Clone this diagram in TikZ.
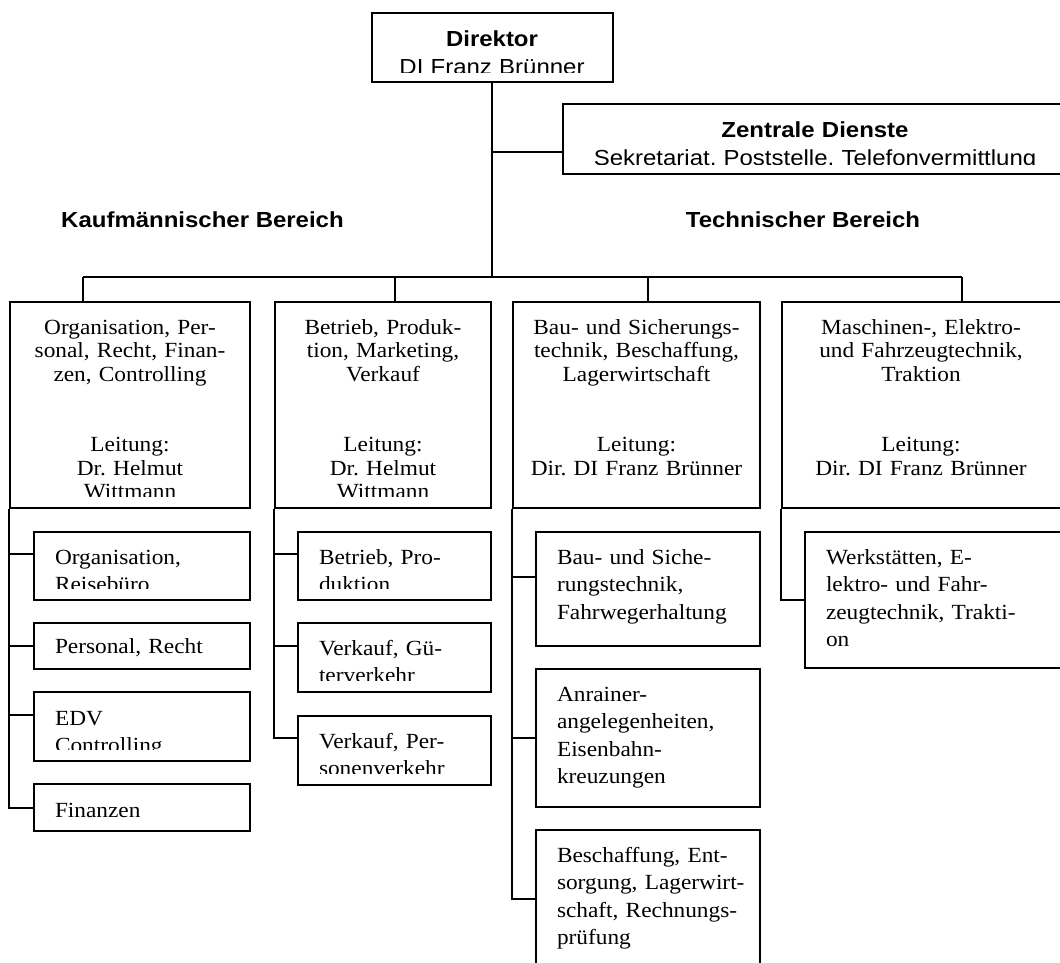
\documentclass[tikz,border=0pt]{standalone}
\usepackage{fontspec}
\setmainfont{Liberation Serif}[FakeStretch=1.08]
\setsansfont{Liberation Sans}[FakeStretch=1.1]
\frenchspacing

\newcommand\serifsize{\fontsize{21.6}{23.5}\selectfont}
\newcommand\subsize{\fontsize{21.6}{27.5}\selectfont}
\newcommand\sanssize{\fontsize{21.8}{28}\selectfont}

\begin{document}
\begin{tikzpicture}[
  x=1pt, y=-1pt,
  line width=2pt,
  every node/.style={inner sep=0pt},
  org box/.style={draw, line width=2pt},
  head/.style={anchor=base, font=\sanssize\sffamily\bfseries},
  sans text/.style 2 args={path picture={
      \clip ([yshift=9.5pt]path picture bounding box.south west)
        rectangle (path picture bounding box.north east);
      \node[anchor=base, text width=600pt, align=center, font=\sanssize\sffamily]
        at ([yshift=-#1]path picture bounding box.north) {#2};}},
  mid text/.style 2 args={path picture={
      \clip ([yshift=11.5pt]path picture bounding box.south west)
        rectangle (path picture bounding box.north east);
      \node[anchor=base, text width=400pt, align=center, font=\serifsize]
        at ([yshift=-#1]path picture bounding box.north) {#2};}},
  left text/.style 2 args={path picture={
      \clip ([yshift=11.5pt]path picture bounding box.south west)
        rectangle (path picture bounding box.north east);
      \node[anchor=base west, text width=400pt, align=left, font=\subsize]
        at ([xshift=20pt,yshift=-#1]path picture bounding box.north west) {#2};}},
]
\useasboundingbox (0,0) rectangle (1060,962);
\clip (0,0) rectangle (1060,962);

% head and staff unit
\node[org box, minimum width=241, minimum height=69,
  sans text={33}{\textbf{Direktor}\\DI Franz Brünner}] (dir) at (492,47.5) {};
\node[org box, minimum width=504, minimum height=70,
  sans text={33}{\textbf{Zentrale Dienste}\\Sekretariat, Poststelle, Telefonvermittlung}] (zd) at (815,139) {};

\node[head] (kb) at (202.5,227) {Kaufmännischer Bereich};
\node[head] (tb) at (803,227) {Technischer Bereich};

% departments
\node[org box, minimum width=240, minimum height=206,
  mid text={32}{Organisation, Per-\\sonal, Recht, Finan-\\zen, Controlling\\[47pt]Leitung:\\Dr. Helmut\\Wittmann}] (b1) at (130,405) {};
\node[org box, minimum width=216, minimum height=206,
  mid text={32}{Betrieb, Produk-\\tion, Marketing,\\Verkauf\\[47pt]Leitung:\\Dr. Helmut\\Wittmann}] (b2) at (383,405) {};
\node[org box, minimum width=247, minimum height=206,
  mid text={32}{Bau- und Sicherungs-\\technik, Beschaffung,\\Lagerwirtschaft\\[47pt]Leitung:\\Dir. DI Franz Brünner}] (b3) at (636.5,405) {};
\node[org box, minimum width=279, minimum height=206,
  mid text={32}{Maschinen-, Elektro-\\und Fahrzeugtechnik,\\Traktion\\[47pt]Leitung:\\Dir. DI Franz Brünner}] (b4) at (921,405) {};

% sections
\node[org box, minimum width=216, minimum height=68,
  left text={32}{Organisation,\\Reisebüro}] (s11) at (142,566) {};
\node[org box, minimum width=216, minimum height=46,
  left text={30}{Personal, Recht}] (s12) at (142,646) {};
\node[org box, minimum width=216, minimum height=69,
  left text={33}{EDV\\Controlling}] (s13) at (142,726.5) {};
\node[org box, minimum width=216, minimum height=47,
  left text={33}{Finanzen}] (s14) at (142,807.5) {};

\node[org box, minimum width=193, minimum height=68,
  left text={32}{Betrieb, Pro-\\duktion}] (s21) at (394.5,566) {};
\node[org box, minimum width=193, minimum height=69,
  left text={32}{Verkauf, Gü-\\terverkehr}] (s22) at (394.5,657.5) {};
\node[org box, minimum width=193, minimum height=69,
  left text={32}{Verkauf, Per-\\sonenverkehr}] (s23) at (394.5,750.5) {};

\node[org box, minimum width=224, minimum height=114,
  left text={32}{Bau- und Siche-\\rungstechnik,\\Fahrwegerhaltung}] (s31) at (648,589) {};
\node[org box, minimum width=224, minimum height=138,
  left text={32}{Anrainer-\\angelegenheiten,\\Eisenbahn-\\kreuzungen}] (s32) at (648,738) {};
\node[org box, minimum width=224, minimum height=138,
  left text={32}{Beschaffung, Ent-\\sorgung, Lagerwirt-\\schaft, Rechnungs-\\prüfung}] (s33) at (648,899) {};

\node[org box, minimum width=260, minimum height=136,
  left text={32}{Werkstätten, E-\\lektro- und Fahr-\\zeugtechnik, Trakti-\\on}] (s41) at (935,600) {};

% tree lines
\coordinate (bus) at (492,277);
\coordinate (d1) at (83,277);
\coordinate (d2) at (395,277);
\coordinate (d3) at (648,277);
\coordinate (d4) at (962,277);
\coordinate (zj) at (492,152);
\draw (dir.south) -- (bus);
\draw (zj) -- (zj -| zd.west);
\draw (d1) -- (d4);
\draw (d1) -- (d1 |- b1.north);
\draw (d2) -- (d2 |- b2.north);
\draw (d3) -- (d3 |- b3.north);
\draw (d4) -- (d4 |- b4.north);

\coordinate (t11) at ([yshift=12pt]s11.west);
\coordinate (t13) at ([yshift=11.5pt]s13.west);
\coordinate (t21) at ([yshift=12pt]s21.west);
\coordinate (t22) at ([yshift=11.5pt]s22.west);
\coordinate (t23) at ([yshift=12.5pt]s23.west);
\coordinate (t31) at ([yshift=12pt]s31.west);

\draw (b1.south west) |- (s14.west);
\draw (b1.south west |- t11) -- (t11);
\draw (b1.south west |- s12.west) -- (s12.west);
\draw (b1.south west |- t13) -- (t13);

\draw (b2.south west) |- (t23);
\draw (b2.south west |- t21) -- (t21);
\draw (b2.south west |- t22) -- (t22);

\draw (b3.south west) |- (s33.west);
\draw (b3.south west |- t31) -- (t31);
\draw (b3.south west |- s32.west) -- (s32.west);

\draw (b4.south west) |- (s41.west);
\end{tikzpicture}
\end{document}
